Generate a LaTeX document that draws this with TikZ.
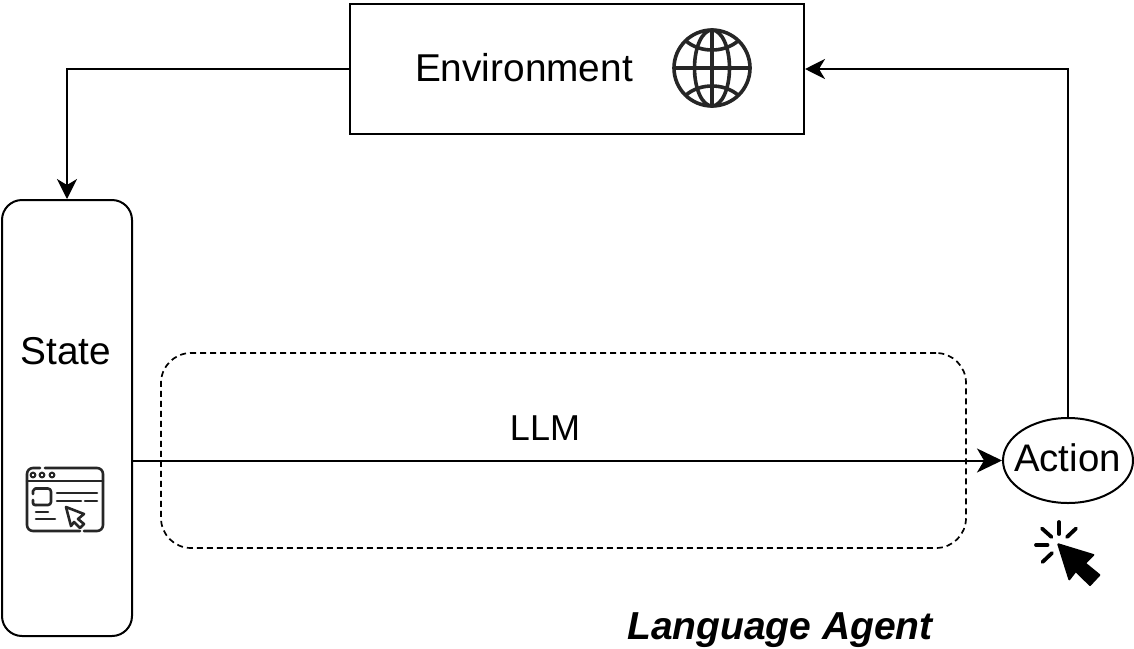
\documentclass[tikz,border=0pt]{standalone}
\usepackage{fontspec}
\setmainfont{Liberation Sans}
\usetikzlibrary{arrows.meta,shapes.geometric}
\tikzset{
  box/.style={draw=black,line width=2pt,inner sep=0pt,fill=white},
  lab/.style={inner sep=0pt,font=\fontsize{38.8}{44}\selectfont},
  conn/.style={draw=black,line width=2pt,-{Stealth[length=20pt,width=20pt,inset=6pt]}},
  bigconn/.style={draw=black,line width=2pt,-{Stealth[length=25pt,width=24pt,inset=7pt]}},
  icon/.style={draw=black!85,line width=3.6pt,line cap=round,line join=round},
  thin icon/.style={draw=black!85,line width=2.6pt,line cap=round,line join=round},
  ray/.style={draw=black,line width=3.8pt,line cap=round}
}
\begin{document}
\begin{tikzpicture}[x=1pt,y=-1pt]
\useasboundingbox (0,0) rectangle (1134,648);
\fill[white] (0,0) rectangle (1134,648);
% boxes
\node[box,minimum width=454pt,minimum height=130pt] (env) at (577,69) {};
\node[box,rounded corners=20pt,minimum width=130pt,minimum height=436pt] (state) at (67,418) {};
\node[box,dashed,dash pattern=on 6pt off 4pt,fill=none,line width=1.7pt,rounded corners=30pt,minimum width=805pt,minimum height=195pt] (llmbox) at (563.5,450.5) {};
\node[box,ellipse,minimum width=130pt,minimum height=85pt] (action) at (1068,460.5) {};
% connectors
\draw[conn] (env.west) -| (state.north);
\draw[conn] (action.north) |- (env.east);
\draw[bigconn] (action.west -| state.east) -- (action.west);
% labels
\node[lab] (envlab) at (524,68) {Environment};
\node[lab] (statelab) at (66,351) {State};
\node[lab,font=\fontsize{36}{42}\selectfont] (llmlab) at (545,428) {LLM};
\node[lab,font=\fontsize{38.4}{44}\selectfont] (actlab) at (1067.5,458) {Action};
\node[inner sep=0pt,anchor=base,font=\fontsize{39}{44}\selectfont\bfseries\itshape] (agent) at (780,639) {Language Agent};
% globe icon
\begin{scope}[shift={(712,68)}]
  \draw[icon] (0,0) circle (38);
  \draw[icon] (0,0) ellipse (17.5 and 38);
  \draw[icon] (0,-38) -- (0,38) (-38,0) -- (38,0);
  \draw[icon] (-26,-27) .. controls (-12,-15) and (12,-15) .. (26,-27);
  \draw[icon] (-26,27) .. controls (-12,15) and (12,15) .. (26,27);
\end{scope}
% window icon
\begin{scope}[thin icon]
  \draw[rounded corners=6pt] (40,468) -- (27,468) -- (27,531) -- (80,531);
  \draw[rounded corners=6pt] (84,531) -- (103,531) -- (103,468) -- (45,468);
  \draw (27,481) -- (103,481);
  \draw[line width=2pt] (33,475) circle (2.4) (42,475) circle (2.4) (52,475) circle (2.4);
  \draw[rounded corners=3pt] (36,488.5) -- (51,488.5) -- (51,505) -- (36,505);
  \draw[rounded corners=2pt] (33,494) -- (33,489) -- (36,488.5);
  \draw[rounded corners=2pt] (33,500) -- (33,505) -- (36,505);
  \draw (57,493) -- (97,493) (57,501) -- (81,501) (85,501) -- (97,501);
  \draw (36,512) -- (48,512) (36,519) -- (55,519);
  \draw (66,507) -- (84,514) -- (78,519) -- (84,524) -- (80,528) -- (74,522) -- (71,526) -- cycle;
\end{scope}
% click icon
\fill[black,draw=black,line width=2pt,line join=round] (1058.3,544.3) -- (1093.3,555) -- (1085,563.3) -- (1099.3,575) -- (1090,585) -- (1075.7,571) -- (1069.3,579.3) -- cycle;
\draw[ray] (1059,522) -- (1059,534);
\draw[ray] (1042,528.5) -- (1051.5,537);
\draw[ray] (1076,528.5) -- (1067,537);
\draw[ray] (1036,545) -- (1047.5,545);
\draw[ray] (1042.5,562) -- (1052,553);
\end{tikzpicture}
\end{document}
